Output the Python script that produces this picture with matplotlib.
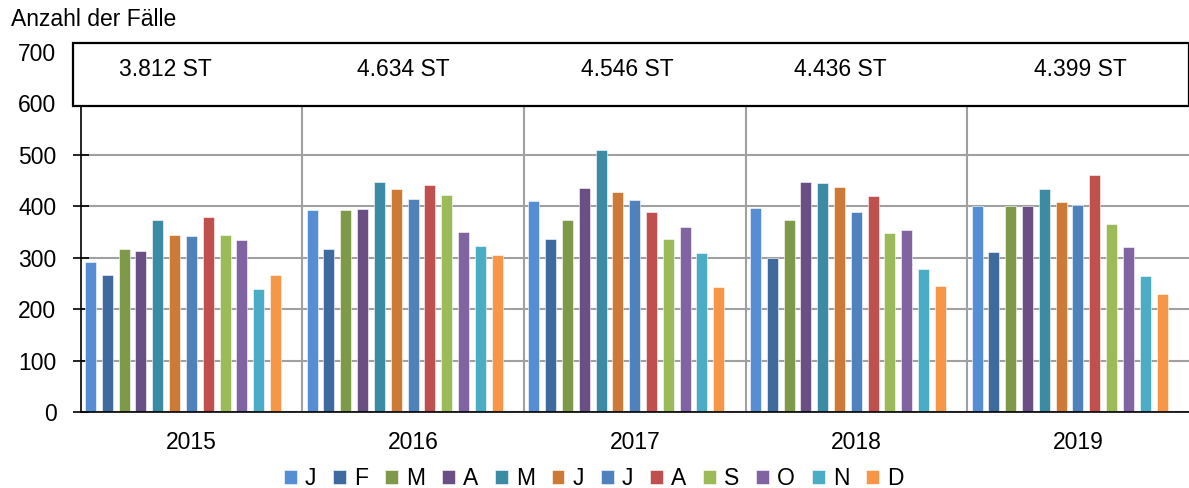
import numpy as np
import matplotlib
matplotlib.use("Agg")
from matplotlib import pyplot as plt
from matplotlib.patches import Rectangle

plt.rcParams['font.family'] = ['Liberation Sans', 'DejaVu Sans']

years = ['2015', '2016', '2017', '2018', '2019']
months = ['J', 'F', 'M', 'A', 'M', 'J', 'J', 'A', 'S', 'O', 'N', 'D']
colors = ['#558ED5', '#3F6A9E', '#7F994A', '#6A4F85', '#3A8BA3', '#CC7A36',
          '#4F81BD', '#C0504D', '#9BBB59', '#8064A2', '#4BACC6', '#F79646']

# Fälle je Monat, eine Liste pro Jahr
y2015 = [292, 266, 317, 313, 374, 344, 343, 379, 344, 334, 239, 267]
y2016 = [392, 317, 392, 394, 448, 433, 415, 442, 422, 350, 323, 306]
y2017 = [411, 336, 374, 436, 510, 427, 413, 389, 336, 360, 310, 244]
y2018 = [397, 299, 373, 448, 446, 437, 388, 421, 349, 354, 278, 246]
y2019 = [400, 311, 400, 401, 434, 409, 403, 461, 365, 321, 265, 229]
data = np.array([y2015, y2016, y2017, y2018, y2019])

# x-Position der Summen im Kasten
total_x = [0.38, 1.456, 2.464, 3.425, 4.512]

fs = 16.5

fig = plt.figure(figsize=(11.89, 4.88), dpi=100)
ax = fig.add_axes([0.0679, 0.1557, 0.9321, 0.7377])

w = 0.0495
step = 0.0759
for i in range(12):
    x = np.arange(5) + 0.019 + i * step + w / 2
    ax.bar(x, data[:, i], width=w, color=colors[i], edgecolor='white',
           linewidth=0.4, label=months[i], zorder=3)

ax.set_xlim(0, 5)
ax.set_ylim(0, 700)
ax.set_yticks(range(0, 701, 100))
ax.set_xticks(np.arange(5) + 0.5)
ax.set_xticklabels(years)
ax.tick_params(axis='x', length=0, pad=14, labelsize=fs)
ax.tick_params(axis='y', direction='inout', length=11, width=1.2, pad=12, labelsize=fs)
ax.yaxis.grid(True, color='#A0A0A0', linewidth=1.5, zorder=0)
for g in range(1, 5):
    ax.axvline(g, color='#A0A0A0', linewidth=1.5, zorder=1)

for s in ['top', 'right']:
    ax.spines[s].set_visible(False)
ax.spines['left'].set_linewidth(1.2)
ax.spines['bottom'].set_linewidth(1.2)
ax.spines['left'].set_zorder(4)
ax.spines['bottom'].set_zorder(4)

# Kasten mit den Jahressummen oberhalb der Säulen
box = Rectangle((-8 / 222, 595), 5 + 8 / 222, 123, transform=ax.transData,
                facecolor='white', edgecolor='black', linewidth=1.6,
                clip_on=False, zorder=5)
ax.add_patch(box)
for g in range(5):
    total = f"{int(data[g].sum()):,}".replace(",", ".") + " ST"
    ax.text(total_x[g], 666, total, ha='center', va='center', fontsize=fs,
            zorder=6, clip_on=False)

fig.text(11 / 1189, 1 - 19 / 488, 'Anzahl der Fälle', ha='left', va='center',
         fontsize=fs)

ax.legend(loc='center', bbox_to_anchor=(0.463, -0.185), ncol=12,
          frameon=False, fontsize=fs, handlelength=0.55, handleheight=0.55,
          handletextpad=0.35, columnspacing=0.75, borderaxespad=0, borderpad=0)

fig.savefig('out.png', dpi=100)
